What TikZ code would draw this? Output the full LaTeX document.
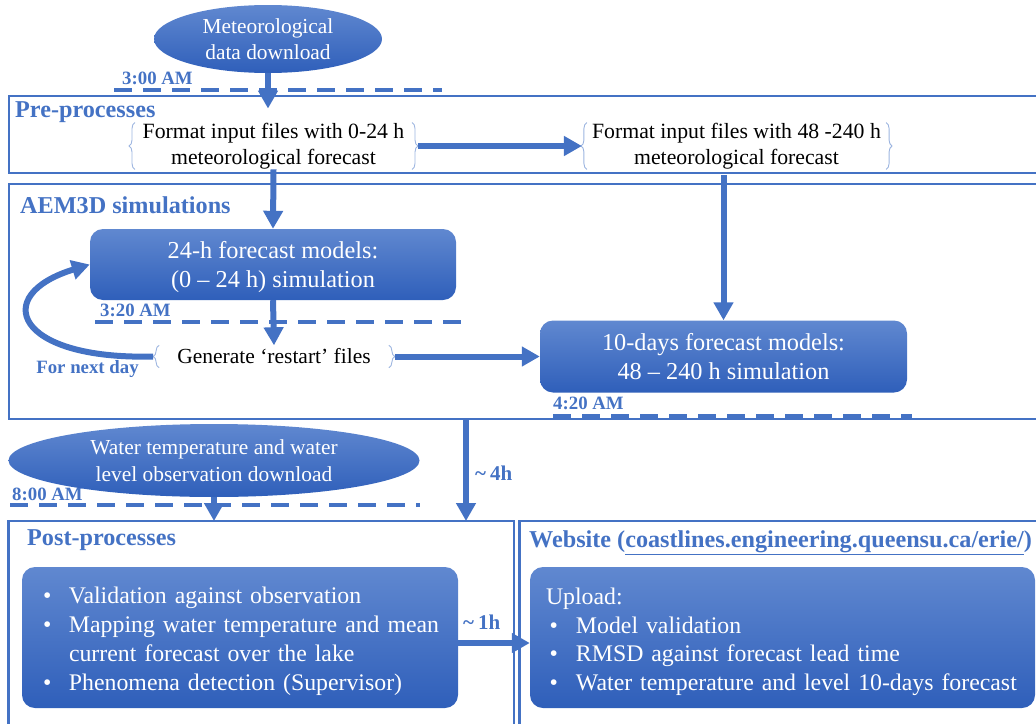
\documentclass[tikz,border=0pt]{standalone}
\usepackage{fontspec}
\setmainfont{Liberation Serif}
\usetikzlibrary{arrows.meta,decorations.pathreplacing,shapes.geometric,calc}
\definecolor{fb}{HTML}{4472C4}
\definecolor{gtop}{HTML}{6088D0}
\definecolor{gbot}{HTML}{2F5FBA}
\definecolor{brc}{HTML}{9DB5E0}
\begin{document}
\begin{tikzpicture}[x=1pt,y=-1pt,
  framebox/.style={draw=fb, line width=2.6pt, inner sep=0pt, outer sep=0pt, anchor=north west},
  blobbox/.style={rounded corners=13pt, top color=gtop, bottom color=gbot, draw=none, text=white, inner sep=0pt, align=center},
  ovalbox/.style={ellipse, top color=gtop, bottom color=gbot, draw=none, text=white, inner sep=0pt, align=center},
  timetag/.style={text=fb, font=\bfseries\fontsize{18.8pt}{22pt}\selectfont, inner sep=0pt, anchor=west},
  sechead/.style={text=fb, font=\bfseries\fontsize{24.2pt}{28pt}\selectfont, inner sep=0pt, anchor=west},
  flowarrow/.style={draw=fb, line width=6pt, -{Triangle[length=18pt,width=19pt]}},
  timeln/.style={draw=fb, line width=3.5pt, dash pattern=on 18pt off 11pt},
  bracetext/.style={inner ysep=0pt, inner xsep=7.5pt, align=center},
  bracedraw/.style={draw=brc, line width=0.9pt, decorate, decoration={brace, amplitude=6pt}},
]
\clip (0,0) rectangle (1036,723);
% frames
\node[framebox, minimum width=1045pt, minimum height=77pt] (pre) at (9,96) {};
\node[framebox, minimum width=1045pt, minimum height=235pt] (aem) at (9,184) {};
\node[framebox, minimum width=505.4pt, minimum height=260pt] (post) at (8.6,521) {};
\node[framebox, minimum width=560pt, minimum height=260pt] (web) at (519.5,521) {};
% headings
\node[sechead] (hpre) at (15,112) {Pre-processes};
\node[sechead] (haem) at (20,205) {AEM3D simulations};
\node[sechead] (hpost) at (27,540) {Post-processes};
\node[sechead] (hweb) at (529,543) {Website (\underline{coastlines.engineering.queensu.ca/erie/})};
% time lines
\draw[timeln] (114,90) -- (442,90);
\draw[timeln] (95,322) -- (466,322);
\draw[timeln] (553,416) -- (912,416);
\draw[timeln] (10,505) -- (420,505);
\node[timetag] (t300) at (122,78) {3:00 AM};
\node[timetag] (t320) at (100,310) {3:20 AM};
\node[timetag] (t420) at (553,403) {4:20 AM};
\node[timetag] (t800) at (12,494) {8:00 AM};
\node[timetag, anchor=center] (nextday) at (87.5,369) {For next day};
\node[timetag, font=\bfseries\fontsize{21pt}{24pt}\selectfont] (h4) at (475,473) {\textasciitilde\hspace{4pt}4h};
\node[timetag, font=\bfseries\fontsize{21pt}{24pt}\selectfont] (h1) at (463,622) {\textasciitilde\hspace{4pt}1h};
% content nodes
\node[ovalbox, minimum width=228pt, minimum height=68pt, font=\fontsize{21.4pt}{26pt}\selectfont] (met) at (268,39) {Meteorological\\data download};
\node[bracetext, font=\fontsize{21.75pt}{26.5pt}\selectfont] (f1) at (273.5,146) {Format input files with 0-24 h\\meteorological forecast};
\draw[bracedraw] (f1.south west) -- (f1.north west);
\draw[bracedraw] (f1.north east) -- (f1.south east);
\node[bracetext, inner xsep=5pt, font=\fontsize{21.75pt}{26.5pt}\selectfont] (f2) at (736.5,146) {Format input files with 48 -240 h\\meteorological forecast};
\draw[bracedraw] (f2.south west) -- (f2.north west);
\draw[bracedraw] (f2.north east) -- (f2.south east);
\node[blobbox, minimum width=366pt, minimum height=71pt, font=\fontsize{24.3pt}{28.5pt}\selectfont] (m24) at (273,264.5) {24-h forecast models:\\\raisebox{0pt}[\height][0pt]{(0 – 24 h) simulation}};
\node[bracetext, inner xsep=18pt, minimum height=22pt, font=\fontsize{21.5pt}{26pt}\selectfont] (gen) at (274,356.5) {Generate ‘restart’ files};
\draw[bracedraw] (gen.south west) -- (gen.north west);
\draw[bracedraw] (gen.north east) -- (gen.south east);
\node[blobbox, minimum width=367pt, minimum height=72pt, font=\fontsize{24.3pt}{29pt}\selectfont] (d10) at (723.5,356.5) {10-days forecast models:\\48 – 240 h simulation};
\node[ovalbox, minimum width=411pt, minimum height=73pt, font=\fontsize{21.4pt}{27pt}\selectfont] (obs) at (214,460.5) {Water temperature and water\\level observation download};
\node[blobbox, minimum width=436pt, minimum height=141pt, text width=394pt, inner xsep=21pt, align=left, font=\fontsize{23.8pt}{29pt}\selectfont] (pbox) at (240,637.5) {\begin{tabular}{@{}p{26pt}@{}l@{}}
\rule{0pt}{27.3pt}\textbullet & Validation against observation\\
\textbullet & Mapping water temperature and mean\\
 & current forecast over the lake\\
\textbullet & Phenomena detection (Supervisor)
\end{tabular}};
\node[blobbox, minimum width=505pt, minimum height=141pt, text width=473pt, inner xsep=16pt, align=left, font=\fontsize{23.8pt}{28.5pt}\selectfont] (wbox) at (782.5,637.5) {\begin{tabular}{@{}p{30pt}@{}l@{}}
\multicolumn{2}{@{}l@{}}{\rule{0pt}{29pt}Upload:}\\
\hspace{3.5pt}\textbullet & Model validation\\
\hspace{3.5pt}\textbullet & RMSD against forecast lead time\\
\hspace{3.5pt}\textbullet & Water temperature and level 10-days forecast
\end{tabular}};
% connectors
\draw[flowarrow, shorten >=14pt] (met.south) -- (met.south |- f1.north);
\draw[flowarrow] ([xshift=6pt]f1.east) -- ([xshift=-5pt]f2.west);
\draw[flowarrow] (f1.south) -- (m24.north);
\draw[flowarrow, shorten <=6pt] (d10.north |- f2.south) -- (d10.north);
\draw[flowarrow] (m24.south) -- (gen.north);
\draw[flowarrow] ([xshift=-6pt]gen.west) .. controls (15,360) and (-10,295) .. (m24.west);
\draw[flowarrow] ([xshift=6pt]gen.east) -- (d10.west);
\coordinate (p4) at ([xshift=-48pt]post.north east);
\draw[flowarrow] (p4 |- aem.south) -- (p4);
\draw[flowarrow] (obs.south) -- (obs.south |- post.north);
\draw[flowarrow] ([yshift=-5.5pt]pbox.east) -- ([yshift=-5.5pt]wbox.west);
\end{tikzpicture}
\end{document}
